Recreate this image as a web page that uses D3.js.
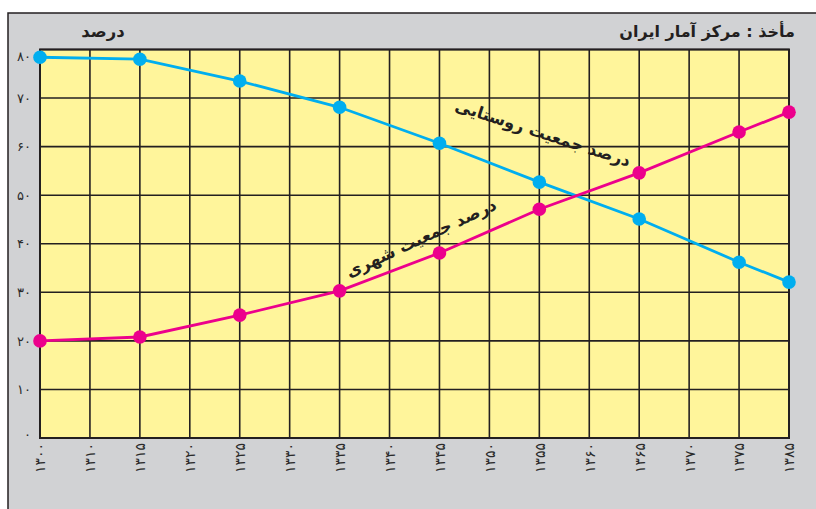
<!DOCTYPE html>
<html>
<head>
<meta charset="utf-8">
<script src="https://cdn.jsdelivr.net/npm/d3@7"></script>
<style>
  html, body { margin: 0; padding: 0; background: #ffffff; }
  svg { display: block; }
  .fa { font-family: "DejaVu Sans", "Noto Sans", sans-serif; }
</style>
</head>
<body>
<svg id="chart" width="816" height="509"></svg>
<script>
// ---- data ----
const categories = ["1300","1310","1315","1320","1325","1330","1335","1340","1345","1350","1355","1360","1365","1370","1375","1385"];
const xTickLabels = ["۱۳۰۰","۱۳۱۰","۱۳۱۵","۱۳۲۰","۱۳۲۵","۱۳۳۰","۱۳۳۵","۱۳۴۰","۱۳۴۵","۱۳۵۰","۱۳۵۵","۱۳۶۰","۱۳۶۵","۱۳۷۰","۱۳۷۵","۱۳۸۵"];
const yTicks = [0,10,20,30,40,50,60,70,80];
const yTickLabels = ["۰","۱۰","۲۰","۳۰","۴۰","۵۰","۶۰","۷۰","۸۰"];
const seriesYears = ["1300","1315","1325","1335","1345","1355","1365","1375","1385"];
const ruralValues = [78.4,78.0,73.5,68.1,60.7,52.7,45.1,36.2,32.1];
const urbanValues = [20.0,20.8,25.3,30.3,38.1,47.1,54.6,63.0,67.1];
const ruralLabel = "درصد جمعیت روستایی";
const urbanLabel = "درصد جمعیت شهری";
const yTitle = "درصد";
const sourceText = "مأخذ : مرکز آمار ایران";

// ---- layout ----
const svg = d3.select("#chart");
const plot = {left: 40, right: 789, top: 49.5, bottom: 438};
const x = d3.scalePoint().domain(categories).range([plot.left, plot.right]);
const y = d3.scaleLinear().domain([0, 80]).range([plot.bottom, plot.top]);

// gray panel
svg.append("rect").attr("x", 8).attr("y", 13).attr("width", 820).attr("height", 510)
  .attr("fill", "#d1d2d4").attr("stroke", "#231f20").attr("stroke-width", 1.5);

// yellow plot
svg.append("rect").attr("x", plot.left).attr("y", plot.top)
  .attr("width", plot.right - plot.left).attr("height", plot.bottom - plot.top)
  .attr("fill", "#fff59b");

// grid
const grid = svg.append("g").attr("stroke", "#231f20").attr("stroke-width", 1.6);
grid.selectAll("line.v").data(categories).join("line").attr("class","v")
  .attr("x1", d => x(d)).attr("x2", d => x(d)).attr("y1", plot.top).attr("y2", plot.bottom);
grid.selectAll("line.h").data(yTicks).join("line").attr("class","h")
  .attr("x1", plot.left).attr("x2", plot.right).attr("y1", d => y(d)).attr("y2", d => y(d));
svg.append("rect").attr("x", plot.left).attr("y", plot.top)
  .attr("width", plot.right - plot.left).attr("height", plot.bottom - plot.top)
  .attr("fill", "none").attr("stroke", "#231f20").attr("stroke-width", 2);

// y axis labels
const yAxis = d3.axisLeft(y).tickValues(yTicks).tickSize(0).tickPadding(9)
  .tickFormat((d, i) => yTickLabels[i]);
const gy = svg.append("g").attr("transform", `translate(${plot.left},0)`).call(yAxis);
gy.select(".domain").remove();
gy.selectAll("text").attr("class", "fa").attr("font-size", 13).attr("fill", "#2b2b2b")
  .attr("dy", d => d === 80 ? "0.85em" : (d === 0 ? "0.05em" : "0.32em"));

// x axis labels
const xAxis = d3.axisBottom(x).tickSize(0).tickPadding(0)
  .tickFormat((d, i) => xTickLabels[i]);
const gx = svg.append("g").attr("transform", `translate(0,${plot.bottom})`).call(xAxis);
gx.select(".domain").remove();
gx.selectAll("text").attr("class", "fa").attr("font-size", 14).attr("fill", "#2b2b2b")
  .attr("transform", "rotate(-90)").attr("text-anchor", "end")
  .attr("x", -5).attr("y", 0).attr("dy", "0.35em").attr("direction", "ltr");

// lines
const ruralData = seriesYears.map((d, i) => ({year: d, v: ruralValues[i]}));
const urbanData = seriesYears.map((d, i) => ({year: d, v: urbanValues[i]}));
const line = d3.line().x(d => x(d.year)).y(d => y(d.v));

function drawSeries(data, color) {
  svg.append("path").datum(data).attr("d", line)
    .attr("fill", "none").attr("stroke", color).attr("stroke-width", 2.8);
  svg.append("g").selectAll("circle").data(data).join("circle")
    .attr("cx", d => x(d.year)).attr("cy", d => y(d.v)).attr("r", 6.8).attr("fill", color);
}
drawSeries(ruralData, "#00aeef");
drawSeries(urbanData, "#ec008c");

// titles
svg.append("text").attr("class", "fa").attr("x", 103).attr("y", 37)
  .attr("text-anchor", "middle").attr("font-size", 16.5).attr("font-weight", "bold")
  .attr("fill", "#231f20").attr("direction", "rtl").text(yTitle);
svg.append("text").attr("class", "fa").attr("x", 795).attr("y", 37)
  .attr("text-anchor", "start").attr("font-size", 16).attr("font-weight", "bold")
  .attr("fill", "#231f20").attr("direction", "rtl").text(sourceText);

// curve labels
svg.append("text").attr("class", "fa")
  .attr("transform", "translate(543,133) rotate(18)")
  .attr("text-anchor", "middle").attr("dy", "0.35em").attr("font-size", 16.5).attr("font-weight", "bold")
  .attr("fill", "#231f20").attr("direction", "rtl").text(ruralLabel);
svg.append("text").attr("class", "fa")
  .attr("transform", "translate(421,238) rotate(-25)")
  .attr("text-anchor", "middle").attr("dy", "0.35em").attr("font-size", 16.5).attr("font-weight", "bold")
  .attr("fill", "#231f20").attr("direction", "rtl").text(urbanLabel);
</script>
</body>
</html>
